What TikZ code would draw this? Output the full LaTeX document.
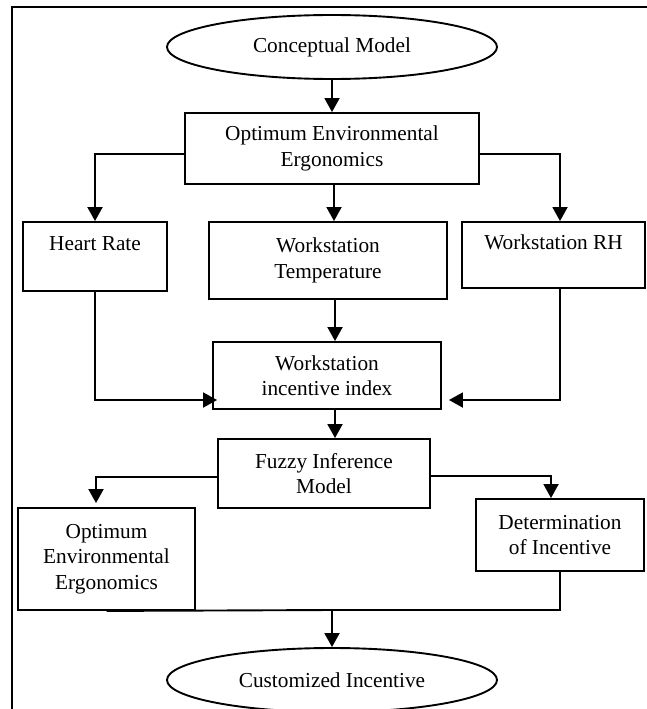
\documentclass[tikz,border=0pt]{standalone}
\usepackage{fontspec}
\setmainfont{Liberation Serif}
\usetikzlibrary{shapes.geometric,arrows.meta}
\begin{document}
\begin{tikzpicture}[x=1pt,y=-1pt,
  box/.style={draw,line width=1.9pt,rectangle,inner sep=0pt,align=center,
    font=\fontsize{21.3}{25.5}\selectfont},
  oval/.style={draw,line width=1.9pt,ellipse,inner sep=0pt,minimum width=330pt,
    minimum height=64pt,font=\fontsize{21.3}{25.5}\selectfont},
  conn/.style={line width=1.9pt,-{Triangle[length=14pt,width=15pt]}},
  plain/.style={line width=1.9pt}]
\useasboundingbox (0,0) rectangle (646,709);
% outer frame
\draw[line width=1.9pt] (12,730) -- (12,7) -- (670,7);
% nodes
\node[oval] (cm) at (332,47) {Conceptual Model};
\node[box,minimum width=294pt,minimum height=71pt] (oee) at (332,148.5) {Optimum Environmental\\Ergonomics};
\node[box,minimum width=144pt,minimum height=69pt] (hr) at (95,256.5) {Heart Rate\\\mbox{}};
\node[box,minimum width=238pt,minimum height=77pt] (temp) at (328,260.5) {Workstation\\Temperature};
\node[box,minimum width=183pt,minimum height=66pt] (rh) at (553.5,255) {Workstation RH\\\mbox{}};
\node[box,minimum width=228pt,minimum height=67pt] (idx) at (327,375.5) {Workstation\\incentive index};
\node[box,minimum width=212pt,minimum height=69pt] (fim) at (324,473.5) {Fuzzy Inference\\Model};
\node[box,minimum width=177pt,minimum height=102pt] (oee2) at (106.5,559) {Optimum\\Environmental\\Ergonomics};
\node[box,minimum width=168pt,minimum height=72pt] (doi) at (560,535) {Determination\\of Incentive};
\node[oval] (ci) at (332,680) {Customized Incentive};
\coordinate (j) at (332,610);
% connectors
\draw[conn] (cm.south) -- (oee.north);
\draw[conn] ([yshift=-5.5pt]oee.west) -| (hr.north);
\draw[conn] ([yshift=-5.5pt]oee.east) -| ([xshift=6.5pt]rh.north);
\draw[conn] ([xshift=2pt]oee.south) -- ([xshift=2pt]oee.south |- temp.north);
\draw[conn] ([xshift=7pt]temp.south) -- ([xshift=7pt]temp.south |- idx.north);
\draw[conn] ([xshift=8pt]idx.south) -- ([xshift=8pt]idx.south |- fim.north);
\draw[conn] (hr.south) |- ([yshift=-24.5pt,xshift=5pt]idx.west);
\draw[conn] ([xshift=6.5pt]rh.south) |- ([yshift=-24.5pt,xshift=7pt]idx.east);
\draw[conn] ([yshift=-3.5pt]fim.west) -| ([xshift=-10.5pt,yshift=4pt]oee2.north);
\draw[conn] ([yshift=-2.5pt]fim.east) -| ([xshift=-9pt]doi.north);
\draw[plain] (oee2.south) -- (j);
\draw[plain] (doi.south) |- (j);
\draw[conn] (j) -- (ci.north);
\end{tikzpicture}
\end{document}
